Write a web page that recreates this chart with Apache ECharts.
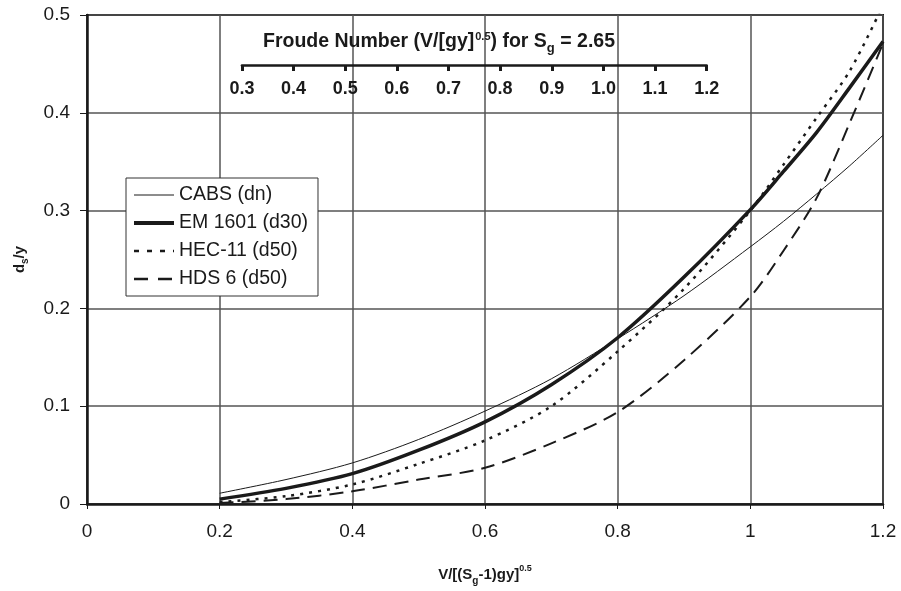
<!DOCTYPE html>
<html>
<head>
<meta charset="utf-8">
<script src="https://cdn.jsdelivr.net/npm/echarts@6/dist/echarts.min.js"></script>
<style>
  html, body { margin: 0; padding: 0; background: #fff; }
  #chart { width: 901px; height: 591px; }
</style>
</head>
<body>
<div id="chart"></div>
<script>
// velocity ratio V/[(Sg-1)gy]^0.5
const xs = [0.2, 0.3, 0.4, 0.5, 0.6, 0.7, 0.8, 0.9, 1.0, 1.05, 1.1, 1.15, 1.2]
// ds/y for each method
const cabs = [0.011, 0.025, 0.042, 0.066, 0.095, 0.128, 0.169, 0.213, 0.263, 0.289, 0.317, 0.346, 0.377]
const em1601 = [0.005, 0.016, 0.031, 0.055, 0.084, 0.122, 0.170, 0.232, 0.301, 0.340, 0.380, 0.426, 0.473]
const hec11 = [0.002, 0.008, 0.020, 0.041, 0.065, 0.100, 0.156, 0.220, 0.300, 0.347, 0.395, 0.443, 0.510]
const hds6 = [0.001, 0.005, 0.013, 0.025, 0.037, 0.062, 0.094, 0.147, 0.212, 0.259, 0.313, 0.390, 0.471]
const seriesNames = ['CABS (dn)', 'EM 1601 (d30)', 'HEC-11 (d50)', 'HDS 6 (d50)']
// froude number scale (inner axis), Sg = 2.65
const froudeMin = 0.3
const froudeMax = 1.2
const sg = 2.65

const FONT = '"Liberation Sans", Arial, sans-serif'
const INK = '#1a1a1a'

const pair = (ys) => xs.map((x, i) => [x, ys[i]])

// line looks, shared by series and legend
const looks = [
    { color: INK, width: 1, type: 'solid' },
    { color: INK, width: 3.5, type: 'solid' },
    { color: INK, width: 2.5, type: [3, 6] },
    { color: INK, width: 2, type: [14, 8] }
]
const legendLooks = [
    { color: INK, width: 1, type: 'solid' },
    { color: INK, width: 4, type: 'solid' },
    { color: INK, width: 2.5, type: [5, 8] },
    { color: INK, width: 2.5, type: [14, 10] }
]

// main plot area in px
const plotL = 87, plotR = 883, plotT = 15, plotB = 509
const pxPerUnit = (plotR - plotL) / 1.2
const toX = (f) => plotL + f / Math.sqrt(sg - 1) * pxPerUnit

const chart = echarts.init(document.getElementById('chart'), null, { renderer: 'canvas' })

const option = {
    animation: false,
    backgroundColor: '#fff',
    textStyle: { fontFamily: FONT, color: INK },
    title: {
        text: '{a|Froude Number (V/[gy]}{sup|0.5}{a|) for S}{sub|g}{a| = 2.65}',
        left: 263,
        top: 29,
        padding: 0,
        textStyle: {
            rich: {
                a: { fontFamily: FONT, fontWeight: 'bold', fontSize: 19.5, color: INK, lineHeight: 26 },
                sup: { fontFamily: FONT, fontWeight: 'bold', fontSize: 11, color: INK, verticalAlign: 'top', lineHeight: 26, padding: [2, 0, 0, 1] },
                sub: { fontFamily: FONT, fontWeight: 'bold', fontSize: 13, color: INK, verticalAlign: 'bottom', lineHeight: 26 }
            }
        }
    },
    legend: {
        orient: 'vertical',
        left: 126,
        top: 178,
        padding: [7, 10, 7, 6],
        itemWidth: 40,
        itemHeight: 20,
        itemGap: 8,
        backgroundColor: '#fff',
        borderColor: '#333',
        borderWidth: 1,
        borderRadius: 0,
        data: seriesNames.map((name, i) => ({ name, lineStyle: legendLooks[i] })),
        itemStyle: { color: 'transparent', borderWidth: 0, opacity: 0 },
        textStyle: { fontFamily: FONT, fontSize: 19.5, color: INK }
    },
    grid: [
        {
            left: plotL, right: 901 - plotR, top: plotT, bottom: 591 - plotB,
            show: true, borderColor: INK, borderWidth: 2, backgroundColor: '#fff'
        },
        {
            left: toX(froudeMin), right: 901 - toX(froudeMax), top: 64, height: 1
        }
    ],
    xAxis: [
        {
            type: 'value',
            gridIndex: 0,
            min: 0,
            max: 1.2,
            interval: 0.2,
            name: '{a|V/[(S}{sub|g}{a|-1)gy]}{sup|0.5}',
            nameLocation: 'middle',
            nameGap: 60,
            nameTextStyle: {
                rich: {
                    a: { fontFamily: FONT, fontWeight: 'bold', fontSize: 15, color: INK, lineHeight: 22 },
                    sup: { fontFamily: FONT, fontWeight: 'bold', fontSize: 9, color: INK, verticalAlign: 'top', lineHeight: 22 },
                    sub: { fontFamily: FONT, fontWeight: 'bold', fontSize: 10, color: INK, verticalAlign: 'bottom', lineHeight: 22 }
                }
            },
            axisLine: { lineStyle: { color: INK, width: 2.5 } },
            axisTick: { show: true, length: 5, lineStyle: { color: INK, width: 1 } },
            axisLabel: { fontFamily: FONT, fontSize: 19, color: INK, margin: 18 },
            splitLine: { show: true, lineStyle: { color: '#555', width: 1.5 } }
        },
        {
            type: 'value',
            gridIndex: 1,
            min: froudeMin,
            max: froudeMax,
            interval: 0.1,
            position: 'bottom',
            axisLine: { lineStyle: { color: INK, width: 2.5 } },
            axisTick: { show: true, length: 6, lineStyle: { color: INK, width: 3 } },
            axisLabel: {
                fontFamily: FONT, fontSize: 18, fontWeight: 'bold', color: INK, margin: 15,
                formatter: (v) => v.toFixed(1)
            },
            splitLine: { show: false }
        }
    ],
    yAxis: [
        {
            type: 'value',
            gridIndex: 0,
            min: 0,
            max: 0.5,
            interval: 0.1,
            name: '{a|d}{sub|s}{a|/y}',
            nameLocation: 'middle',
            nameRotate: 90,
            nameGap: 57,
            nameTextStyle: {
                rich: {
                    a: { fontFamily: FONT, fontWeight: 'bold', fontSize: 15, color: INK, lineHeight: 20 },
                    sub: { fontFamily: FONT, fontWeight: 'bold', fontSize: 10, color: INK, verticalAlign: 'bottom', lineHeight: 20 }
                }
            },
            axisLine: { show: true, lineStyle: { color: INK, width: 2.5 } },
            axisTick: { show: true, length: 7, lineStyle: { color: INK, width: 1 } },
            axisLabel: { fontFamily: FONT, fontSize: 19, color: INK, margin: 17 },
            splitLine: { show: true, lineStyle: { color: '#555', width: 1.5 } }
        },
        {
            type: 'value',
            gridIndex: 1,
            show: false,
            min: 0,
            max: 1
        }
    ],
    series: [cabs, em1601, hec11, hds6].map((ys, i) => ({
        name: seriesNames[i],
        type: 'line',
        smooth: 0.3,
        symbol: 'none',
        data: pair(ys),
        lineStyle: looks[i],
        itemStyle: { color: INK },
        z: i === 1 ? 4 : 3
    }))
}

chart.setOption(option)
</script>
</body>
</html>
